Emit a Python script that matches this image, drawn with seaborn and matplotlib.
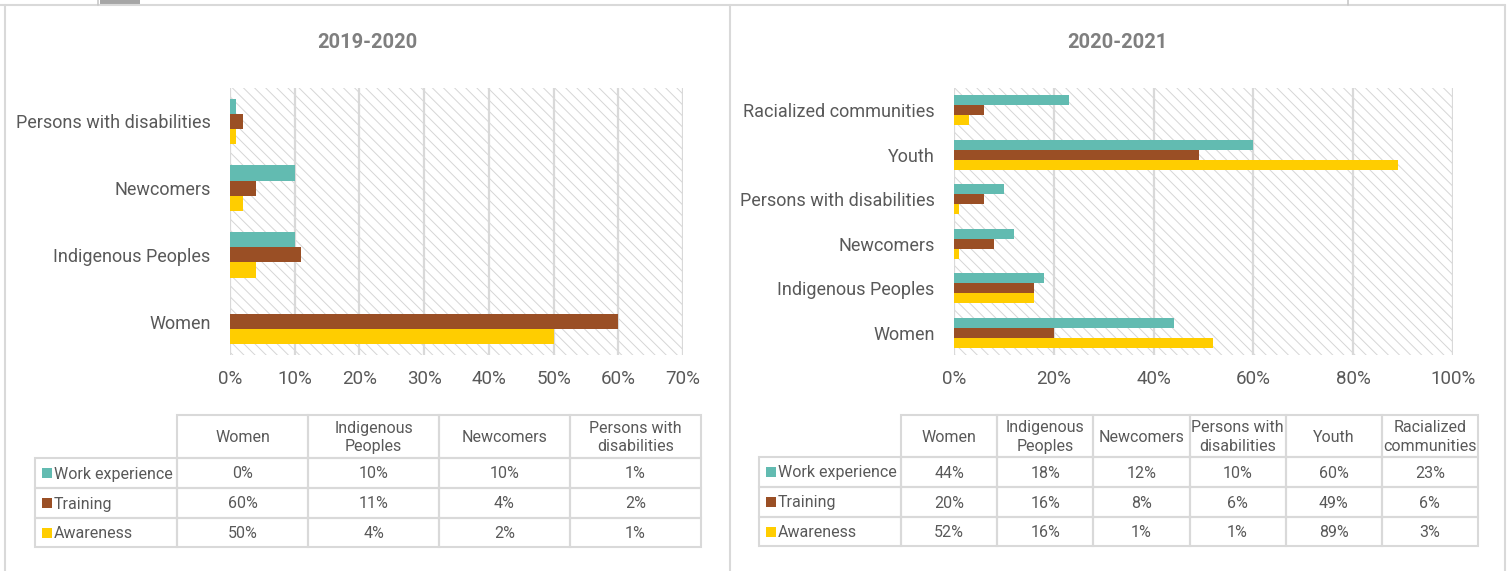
import numpy as np
import pandas as pd
import seaborn as sns
import matplotlib.pyplot as plt
from matplotlib.patches import Rectangle
from matplotlib.ticker import PercentFormatter

series = ["Work experience", "Training", "Awareness"]
colors = ["#62bbb1", "#9a4f25", "#ffcd00"]

groups_1920 = ["Women", "Indigenous Peoples", "Newcomers", "Persons with disabilities"]
work_1920 = [0, 10, 10, 1]
training_1920 = [60, 11, 4, 2]
awareness_1920 = [50, 4, 2, 1]

groups_2021 = ["Women", "Indigenous Peoples", "Newcomers", "Persons with disabilities",
               "Youth", "Racialized communities"]
work_2021 = [44, 18, 12, 10, 60, 23]
training_2021 = [20, 16, 8, 6, 49, 6]
awareness_2021 = [52, 16, 1, 1, 89, 3]

headers_1920 = ["Women", "Indigenous\nPeoples", "Newcomers", "Persons with\ndisabilities"]
headers_2021 = ["Women", "Indigenous\nPeoples", "Newcomers", "Persons with\ndisabilities",
                "Youth", "Racialized\ncommunities"]

W, H = 1509, 571
TXT = "#595959"
LINE = "#d9d9d9"

sns.set_theme(style="white")
plt.rcParams["font.family"] = ["Roboto", "DejaVu Sans"]
plt.rcParams["hatch.color"] = "#d6d6d6"
plt.rcParams["hatch.linewidth"] = 0.7


def px_rect(x0, y0, x1, y1):
    return [x0 / W, 1 - y1 / H, (x1 - x0) / W, (y1 - y0) / H]


def make_df(groups, work, training, awareness):
    rows = []
    for vals, name in zip([work, training, awareness], series):
        for g, v in zip(groups, vals):
            rows.append({"group": g, "series": name, "value": v / 100})
    return pd.DataFrame(rows)


def draw_bars(ax, groups, work, training, awareness, xmax, step):
    df = make_df(groups, work, training, awareness)
    # hatched plot area, like the spreadsheet's patterned fill
    ax.add_patch(Rectangle((0, 0), 1, 1, transform=ax.transAxes, facecolor="white",
                           edgecolor="#d6d6d6", linewidth=0, hatch="\\\\\\", zorder=0.1))
    sns.barplot(data=df, x="value", y="group", hue="series", order=groups[::-1],
                hue_order=series, palette=colors, saturation=1, width=0.68,
                linewidth=0, legend=False, ax=ax)
    ax.set_xlim(0, xmax)
    ax.set_ylim(len(groups) - 0.5, -0.5)
    ax.set_xticks(np.arange(0, xmax + 1e-9, step))
    ax.xaxis.set_major_formatter(PercentFormatter(1, decimals=0))
    ax.set_axisbelow(True)
    ax.grid(axis="x", color=LINE, linewidth=1.6)
    ax.grid(axis="y", visible=False)
    for s in ax.spines.values():
        s.set_visible(False)
    ax.set_xlabel("")
    ax.set_ylabel("")
    ax.tick_params(axis="y", length=0, pad=14, labelsize=13, labelcolor=TXT)
    ax.tick_params(axis="x", length=0, pad=11, labelsize=13.5, labelcolor=TXT)
    ax.patch.set_alpha(0)


def draw_table(ov, headers, data, x_label, x0, x1, ys):
    n = len(headers)
    xs = np.linspace(x0, x1, n + 1)
    kw = dict(facecolor="none", edgecolor=LINE, linewidth=1.5)
    for i in range(n):
        ov.add_patch(Rectangle((xs[i], ys[0]), xs[i + 1] - xs[i], ys[1] - ys[0], **kw))
        ov.text((xs[i] + xs[i + 1]) / 2, (ys[0] + ys[1]) / 2 + 1, headers[i], ha="center",
                va="center", fontsize=11.5, color=TXT, linespacing=1.3)
    for r, (name, vals) in enumerate(zip(series, data)):
        ya, yb = ys[r + 1], ys[r + 2]
        ov.add_patch(Rectangle((x_label, ya), x0 - x_label, yb - ya, **kw))
        ov.add_patch(Rectangle((x_label + 7, (ya + yb) / 2 - 5), 10, 10,
                               facecolor=colors[r], edgecolor="none"))
        ov.text(x_label + 19, (ya + yb) / 2 + 1, name, ha="left", va="center",
                fontsize=11.5, color=TXT)
        for i in range(n):
            ov.add_patch(Rectangle((xs[i], ya), xs[i + 1] - xs[i], yb - ya, **kw))
            ov.text((xs[i] + xs[i + 1]) / 2, (ya + yb) / 2 + 1, f"{vals[i]}%", ha="center",
                    va="center", fontsize=11.5, color=TXT)


fig = plt.figure(figsize=(W / 100, H / 100), dpi=100)

ov = fig.add_axes([0, 0, 1, 1])
ov.set_xlim(0, W)
ov.set_ylim(H, 0)
ov.axis("off")
# panel frames and cropped top strip
ov.plot([0, 1505], [5, 5], color=LINE, lw=1.5)
ov.plot([5, 5], [5, H], color=LINE, lw=1.5)
ov.plot([730, 730], [5, H], color=LINE, lw=1.5)
ov.plot([1505, 1505], [5, H], color=LINE, lw=1.5)
ov.plot([98, 98], [0, 5], color="#c8c8c8", lw=1.2)
ov.plot([1348, 1348], [0, 5], color="#c8c8c8", lw=1.2)
ov.add_patch(Rectangle((100, 0), 40, 4, facecolor="#a6a6a6", edgecolor="none"))

fig.text(367 / W, 1 - 42 / H, "2019-2020", ha="center", va="center", fontsize=14.5,
         fontweight="bold", color="#7f7f7f")
fig.text(1117 / W, 1 - 42 / H, "2020-2021", ha="center", va="center", fontsize=14.5,
         fontweight="bold", color="#7f7f7f")

ax1 = fig.add_axes(px_rect(230, 88, 683, 355))
draw_bars(ax1, groups_1920, work_1920, training_1920, awareness_1920, 0.7, 0.1)
ax2 = fig.add_axes(px_rect(954, 88, 1453, 355))
draw_bars(ax2, groups_2021, work_2021, training_2021, awareness_2021, 1.0, 0.2)

draw_table(ov, headers_1920, [work_1920, training_1920, awareness_1920],
           35, 177, 701, [415, 458, 488, 518, 547])
draw_table(ov, headers_2021, [work_2021, training_2021, awareness_2021],
           759, 901, 1478, [415, 457, 487, 517, 546])

fig.savefig("out.png", dpi=100)
